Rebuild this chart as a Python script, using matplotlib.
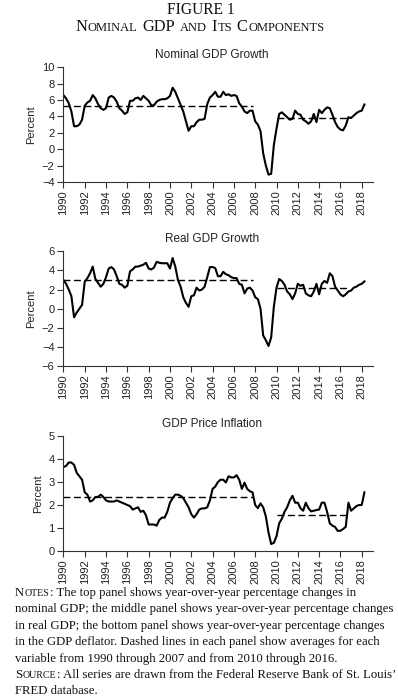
import matplotlib
matplotlib.use('Agg')
import matplotlib.pyplot as plt
import numpy as np

plt.rcParams['font.family'] = ['Liberation Sans', 'DejaVu Sans']
SERIF = ['Liberation Serif', 'DejaVu Serif']

# quarterly year-over-year changes, 1990Q1 - 2018Q2
quarters = 1990 + np.arange(114) / 4.0

nominal = [6.6, 6.2, 5.6, 4.6,  2.8, 2.8, 3.0, 3.6,  5.3, 5.7, 5.9, 6.6,
           6.2, 5.5, 5.0, 4.8,  5.0, 6.3, 6.5, 6.3,  5.8, 5.0, 4.7, 4.3,
           4.5, 5.9, 5.9, 6.2,  6.3, 6.0, 6.5, 6.2,  5.9, 5.35, 5.35, 5.8,
           6.0, 6.1, 6.1, 6.2,  6.5, 7.5, 7.0, 6.2,  5.4, 4.6, 3.4, 2.25,
           2.8, 2.8, 3.3, 3.6,  3.6, 3.7, 5.5, 6.3,  6.6, 7.0, 6.4, 6.4,
           7.0, 6.6, 6.7, 6.5,  6.6, 6.5, 5.6, 5.2,  4.6, 4.4, 4.7, 4.7,
           3.4, 3.0, 2.2, -0.5, -2.0, -3.1, -3.0, 0.5, 2.5, 4.3, 4.5, 4.2,
           3.9, 3.6, 3.7, 4.7,  4.3, 4.2, 3.6, 3.4,  3.1, 3.4, 4.3, 3.3,
           4.8, 4.4, 4.8, 5.1,  5.0, 4.2, 3.3, 2.7,  2.4, 2.3, 2.9, 3.9,
           3.8, 4.1, 4.4, 4.6,  4.7, 5.45]

real = [3.0, 2.6, 2.0, 1.3,  -0.9, -0.4, 0.0, 0.4,  2.8, 3.2, 3.7, 4.4,
        3.1, 2.7, 2.3, 2.6,  3.3, 4.2, 4.35, 4.1,  3.4, 2.6, 2.5, 2.2,
        2.4, 3.9, 4.1, 4.4,  4.4, 4.5, 4.6, 4.8,  4.2, 4.1, 4.3, 4.9,
        4.8, 4.75, 4.75, 4.75,  4.2, 5.3, 4.4, 3.0,  2.3, 1.2, 0.6, 0.2,
        1.3, 1.4, 2.2, 1.9,  2.0, 2.3, 3.3, 4.35,  4.35, 4.25, 3.4, 3.4,
        3.85, 3.6, 3.5, 3.3,  3.2, 3.2, 2.6, 2.5,  1.6, 2.1, 2.2, 1.9,
        1.2, 1.0, 0.0, -2.8,  -3.3, -3.9, -3.0, 0.2,  2.2, 3.1, 2.9, 2.5,
        1.8, 1.5, 1.0, 1.6,  2.6, 2.4, 2.5, 1.6,  1.4, 1.3, 1.8, 2.6,
        1.5, 2.6, 2.9, 2.7,  3.7, 3.4, 2.3, 1.9,  1.5, 1.3, 1.5, 1.8,
        1.9, 2.2, 2.3, 2.5,  2.6, 2.85]

deflator = [3.65, 3.7, 3.85, 3.85,  3.75, 3.4, 3.25, 3.1,  2.55, 2.45, 2.15, 2.2,
            2.35, 2.35, 2.45, 2.35,  2.2, 2.15, 2.15, 2.15,  2.2, 2.15, 2.1, 2.05,
            2.0, 1.95, 1.8, 1.85,  1.9, 1.7, 1.75, 1.55,  1.15, 1.15, 1.15, 1.1,
            1.35, 1.45, 1.45, 1.7,  2.1, 2.3, 2.45, 2.45,  2.4, 2.3, 2.1, 1.9,
            1.6, 1.45, 1.6, 1.8,  1.85, 1.85, 1.9, 2.2,  2.7, 2.8, 3.0, 3.1,
            3.1, 2.98, 3.25, 3.2,  3.2, 3.3, 3.1, 2.7,  2.97, 2.7, 2.6, 2.55,
            2.0, 1.86, 2.07, 1.9,  1.5, 0.8, 0.3, 0.35,  0.64, 1.2, 1.4, 1.7,
            1.9, 2.2, 2.4, 2.1,  2.1, 1.86, 1.75, 2.1,  1.86, 1.72, 1.75, 1.78,
            1.8, 2.1, 2.1, 1.7,  1.2, 1.1, 1.04, 0.87,  0.88, 0.95, 1.05, 2.1,
            1.75, 1.85, 1.95, 2.0,  2.0, 2.55]

# period averages: 1990-2007 and 2010-2016
avg_periods = [(1990.0, 2007.75), (2010.0, 2016.75)]
avg_nominal = [5.3, 3.75]
avg_real = [3.05, 2.17]
avg_deflator = [2.33, 1.58]

panels = [
    ("Nominal GDP Growth", nominal, avg_nominal, (-4, 10), range(-4, 11, 2), 0.740),
    ("Real GDP Growth", real, avg_real, (-6, 6), range(-6, 7, 2), 0.477),
    ("GDP Price Inflation", deflator, avg_deflator, (0, 5), range(0, 6, 1), 0.213),
]

W, H = 398, 700
fig = plt.figure(figsize=(W / 100, H / 100), dpi=100)

for title, vals, avgs, ylim, yticks, bottom in panels:
    ax = fig.add_axes([0.158, bottom, 0.779, 0.164])
    ax.plot(quarters, vals, color='black', lw=1.5, solid_joinstyle='round')
    for (x0, x1), a in zip(avg_periods, avgs):
        ax.plot([x0, x1], [a, a], color='black', lw=1.0, dashes=(5, 2.5))
    ax.set_xlim(1989.95, 2019.05)
    ax.set_ylim(*ylim)
    ax.set_yticks(list(yticks))
    ax.set_xticks(range(1990, 2019, 2))
    ax.set_xticklabels([str(y) for y in range(1990, 2019, 2)], rotation=90)
    for s in ['top', 'right']:
        ax.spines[s].set_visible(False)
    for s in ['left', 'bottom']:
        ax.spines[s].set_linewidth(0.8)
        ax.spines[s].set_color('#333333')
    ax.tick_params(labelsize=8, length=4, width=0.8, pad=2, colors='#333333',
                   labelcolor='#222222')
    ax.set_ylabel("Percent", fontsize=8, color='#222222', labelpad=4)
    ax.set_title(title, fontsize=8.5, color='#222222', x=0.48, pad=6.5)

renderer = fig.canvas.get_renderer()


def text_width(s, fs):
    t = fig.text(0, 0, s, fontsize=fs, family=SERIF)
    w = t.get_window_extent(renderer=renderer).width
    t.remove()
    return w


def pieces_width(pieces, gap_px):
    return sum(gap_px if p is None else text_width(p[0], p[1]) + 0.6 for p in pieces)


def draw_pieces(x_px, base_px, pieces, gap_px, ha='left'):
    # pieces: list of (text, size) or None for a word gap
    widths = [gap_px if p is None else text_width(p[0], p[1]) + 0.6 for p in pieces]
    total = sum(widths)
    x = x_px - total / 2 if ha == 'center' else x_px
    for p, w in zip(pieces, widths):
        if p is not None:
            fig.text(x / W, 1 - base_px / H, p[0], fontsize=p[1], family=SERIF,
                     va='baseline', ha='left', color='#111111')
        x += w


# figure heading
k = 68 / text_width("FIGURE 1", 10)
draw_pieces(201, 14, [("FIGURE 1", 10 * k)], 0, ha='center')
head = lambda b, s: [("N", b), ("OMINAL", s), None, ("GDP", b), None,
                     ("AND", s), None, ("I", b), ("TS", s), None,
                     ("C", b), ("OMPONENTS", s)]
k = 249 / pieces_width(head(10, 7.6), 3.5)
draw_pieces(200, 31, head(10 * k, 7.6 * k), 3.5 * k, ha='center')

# notes
ref_line = "nominal GDP; the middle panel shows year-over-year percentage changes"
fs = 8.0 * 380 / text_width(ref_line, 8.0)
notes = [
    [("N", fs), ("OTES", fs * 0.78), (": The top panel shows year-over-year percentage changes in", fs)],
    [(ref_line, fs)],
    [("in real GDP; the bottom panel shows year-over-year percentage changes", fs)],
    [("in the GDP deflator. Dashed lines in each panel show averages for each", fs)],
    [("variable from 1990 through 2007 and from 2010 through 2016.", fs)],
    [("S", fs), ("OURCE", fs * 0.78), (": All series are drawn from the Federal Reserve Bank of St. Louis\u2019", fs)],
    [("FRED database.", fs)],
]
for i, line in enumerate(notes):
    draw_pieces(15, 596 + i * 16.4, line, 0)

fig.savefig('out.png', dpi=100)
